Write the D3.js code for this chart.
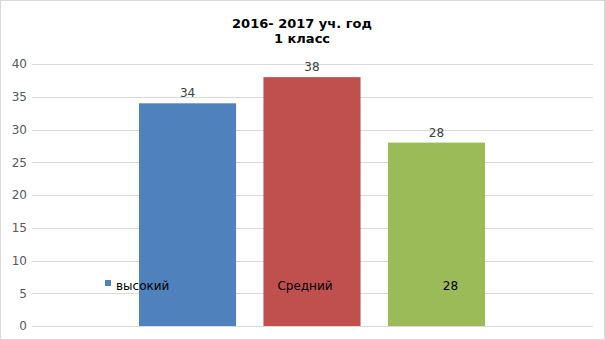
<!DOCTYPE html>
<html>
<head>
<meta charset="utf-8">
<script src="https://cdn.jsdelivr.net/npm/d3@7"></script>
<style>
  body { margin: 0; background: #fff; }
  text { font-family: "DejaVu Sans", sans-serif; }
</style>
</head>
<body>
<div id="chart"></div>
<script>
// Chart data
const titleLines = ['2016- 2017 уч. год', '1 класс'];
const seriesNames = ['высокий', 'Средний', 'низкий'];
const seriesValues = [34, 38, 28];
const seriesColors = ['#4F81BD', '#C0504D', '#9BBB59'];
const yTicks = [0, 5, 10, 15, 20, 25, 30, 35, 40];
// legend labels as they appear in the picture
const legendLabels = ['высокий', 'Средний', '28'];

const W = 605, H = 340;
const margin = { top: 64, right: 12, bottom: 14, left: 32 };
const width = W - margin.left - margin.right;
const height = H - margin.top - margin.bottom;

const root = d3.select('#chart')
    .append('svg')
    .attr('width', W)
    .attr('height', H);

// outer border
root.append('rect')
    .attr('x', 0.5).attr('y', 0.5)
    .attr('width', W - 1).attr('height', H - 1)
    .attr('fill', '#fff')
    .attr('stroke', '#d9d9d9');

// Title
root.append('text')
    .attr('x', 302)
    .attr('y', 28)
    .attr('text-anchor', 'middle')
    .style('font-size', '13px')
    .style('font-weight', 'bold')
    .style('fill', '#000')
    .selectAll('tspan')
    .data(titleLines)
    .enter()
    .append('tspan')
    .attr('x', 302)
    .attr('dy', (d, i) => i === 0 ? 0 : 15)
    .text(d => d);

const svg = root.append('g')
    .attr('transform', `translate(${margin.left},${margin.top})`);

// Y scale
const y = d3.scaleLinear()
    .domain([0, 40])
    .range([height, 0]);

// one category, three series clustered in the middle
const x = d3.scaleBand()
    .domain(seriesNames)
    .range([107, 453])
    .paddingInner(0.22)
    .paddingOuter(0);

// grid lines
svg.append('g')
    .selectAll('line')
    .data(yTicks)
    .enter()
    .append('line')
    .attr('x1', 0)
    .attr('x2', width)
    .attr('y1', d => Math.round(y(d)) + 0.5)
    .attr('y2', d => Math.round(y(d)) + 0.5)
    .attr('stroke', '#d9d9d9')
    .attr('stroke-width', 1);

// Y axis
const yAxis = svg.append('g')
    .call(d3.axisLeft(y).tickValues(yTicks).tickSize(0).tickPadding(5));
yAxis.select('.domain').remove();
yAxis.selectAll('text')
    .style('font-size', '12px')
    .style('fill', '#595959')
    .style('font-family', '"DejaVu Sans", sans-serif');

// bars
svg.append('g')
    .selectAll('rect')
    .data(seriesValues)
    .enter()
    .append('rect')
    .attr('x', (d, i) => x(seriesNames[i]))
    .attr('y', d => y(d))
    .attr('width', x.bandwidth())
    .attr('height', d => height - y(d))
    .attr('fill', (d, i) => seriesColors[i]);

// value labels
svg.append('g')
    .selectAll('text')
    .data(seriesValues)
    .enter()
    .append('text')
    .attr('x', (d, i) => x(seriesNames[i]) + x.bandwidth() / 2)
    .attr('y', d => y(d) - 6)
    .attr('text-anchor', 'middle')
    .style('font-size', '12px')
    .style('fill', '#404040')
    .text(d => d);

// legend (overlapping the bars, like the original)
const legendY = y(5.5);
const legend = svg.append('g');
legend.append('rect')
    .attr('x', 73)
    .attr('y', legendY - 10)
    .attr('width', 6)
    .attr('height', 6)
    .attr('fill', seriesColors[0]);
legend.append('text')
    .attr('x', 84)
    .attr('y', legendY)
    .style('font-size', '12px')
    .style('fill', '#000')
    .text(legendLabels[0]);
legend.append('text')
    .attr('x', x(seriesNames[1]) + x.bandwidth() / 2 - 7)
    .attr('y', legendY)
    .attr('text-anchor', 'middle')
    .style('font-size', '12px')
    .style('fill', '#000')
    .text(legendLabels[1]);
legend.append('text')
    .attr('x', x(seriesNames[2]) + x.bandwidth() / 2 + 14)
    .attr('y', legendY)
    .attr('text-anchor', 'middle')
    .style('font-size', '12px')
    .style('fill', '#000')
    .text(legendLabels[2]);
</script>
</body>
</html>
